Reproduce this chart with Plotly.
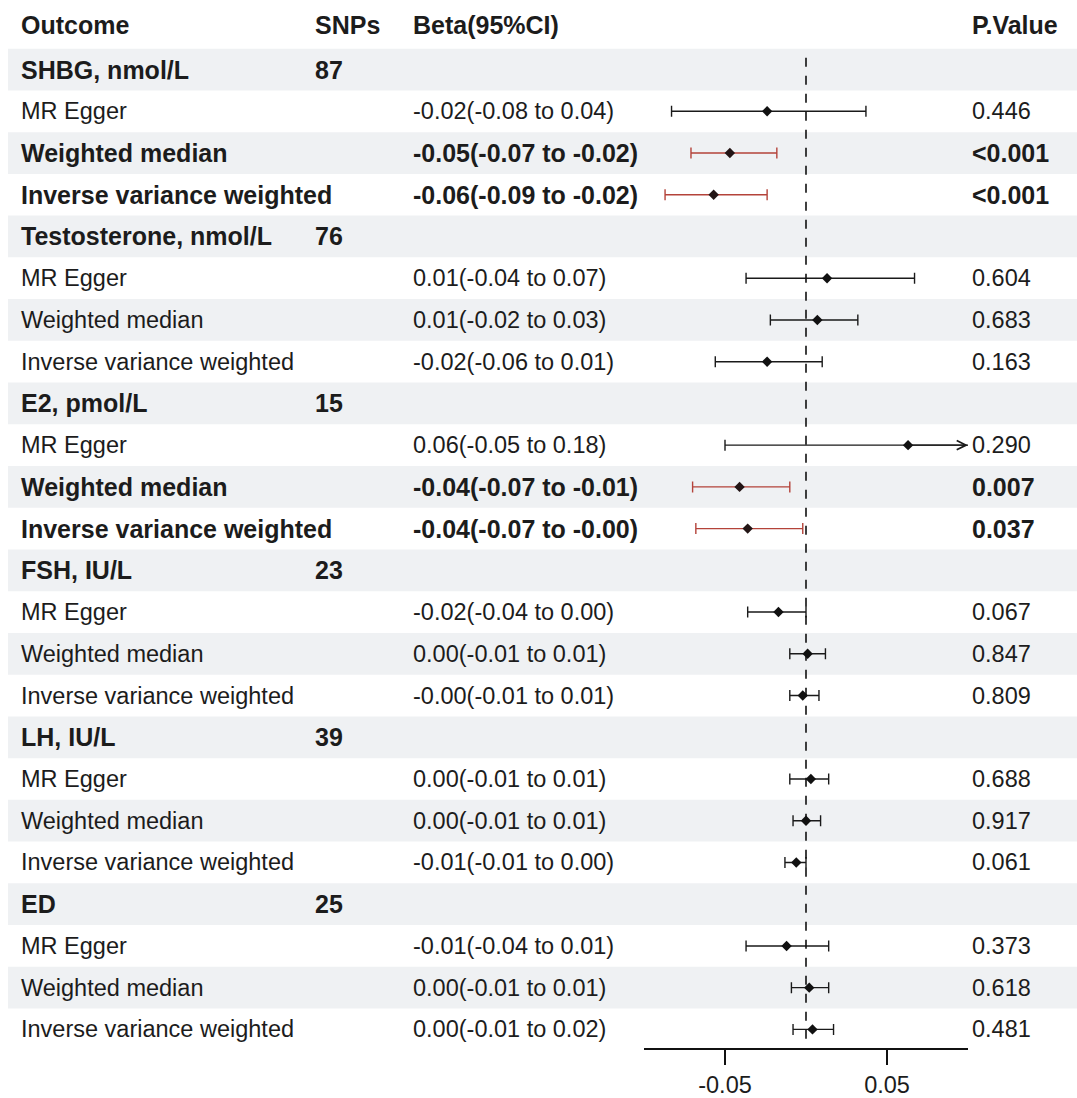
import plotly.graph_objects as go

# ---- data -------------------------------------------------------------
outcomes = ["SHBG, nmol/L", "Testosterone, nmol/L", "E2, pmol/L",
            "FSH, IU/L", "LH, IU/L", "ED"]
snp_counts = [87, 76, 15, 23, 39, 25]
methods = ["MR Egger", "Weighted median", "Inverse variance weighted"]

# beta estimates per outcome (MR Egger, Weighted median, IVW)
beta = [
    [-0.024, -0.047, -0.057],
    [0.013, 0.007, -0.024],
    [0.063, -0.041, -0.036],
    [-0.017, 0.001, -0.002],
    [0.003, 0.000, -0.006],
    [-0.012, 0.002, 0.004],
]
ci_low = [
    [-0.083, -0.071, -0.087],
    [-0.037, -0.022, -0.056],
    [-0.050, -0.070, -0.068],
    [-0.036, -0.010, -0.010],
    [-0.010, -0.008, -0.013],
    [-0.037, -0.009, -0.008],
]
ci_high = [
    [0.037, -0.018, -0.024],
    [0.067, 0.032, 0.010],
    [0.180, -0.010, -0.002],
    [0.000, 0.012, 0.008],
    [0.014, 0.009, 0.000],
    [0.014, 0.014, 0.017],
]
p_values = [
    ["0.446", "<0.001", "<0.001"],
    ["0.604", "0.683", "0.163"],
    ["0.290", "0.007", "0.037"],
    ["0.067", "0.847", "0.809"],
    ["0.688", "0.917", "0.061"],
    ["0.373", "0.618", "0.481"],
]
header_labels = ["Outcome", "SNPs", "Beta(95%CI)", "P.Value"]
x_ticks = [-0.05, 0.05]
x_tick_labels = ["-0.05", "0.05"]
x_limits = [-0.1, 0.1]

# ---- layout constants -------------------------------------------------
W, H = 1077, 1098
FONT = "Liberation Sans, Arial, sans-serif"
TXT = "#1c1c1c"
RED = "#b4433a"
BAND = "#eff1f3"
ROW0, STEP = 70, 42          # vertical position of the first row / row pitch
HEADER_Y = 25
COL_X = [19, 313, 411, 970]  # left edges of the text columns
AXIS_Y = 1055                # vertical position of the x-axis line
PLOT_L, PLOT_R = 644, 968    # horizontal extent of the forest panel
REG = 23.5
BOLD = 25


def is_sig(p):
    return p.startswith("<") or float(p) < 0.05


# ---- build rows -------------------------------------------------------
rows = []
for g, name in enumerate(outcomes):
    rows.append(dict(kind="group", name=name, snps=snp_counts[g]))
    for m, meth in enumerate(methods):
        b, lo, hi = beta[g][m], ci_low[g][m], ci_high[g][m]
        rows.append(dict(kind="method", name=meth, b=b, lo=lo, hi=hi,
                         p=p_values[g][m], sig=is_sig(p_values[g][m])))

fig = go.Figure()
shapes, annotations = [], []


def col_text(col, y, text, bold):
    annotations.append(dict(
        x=COL_X[col] / W, xref="paper", y=y, yref="y",
        text=text, showarrow=False, xanchor="left", yanchor="middle",
        font=dict(family=FONT, size=BOLD if bold else REG, color=TXT,
                  weight="bold" if bold else "normal")))


# header
for c, lab in enumerate(header_labels):
    col_text(c, HEADER_Y, lab, True)

pts = {False: dict(x=[], y=[], ep=[], em=[]), True: dict(x=[], y=[], ep=[], em=[])}
for i, r in enumerate(rows):
    y = ROW0 + STEP * i
    if i % 2 == 0:
        shapes.append(dict(type="rect", xref="paper", yref="y",
                           x0=8 / W, x1=1, y0=y - STEP / 2, y1=y + STEP / 2,
                           fillcolor=BAND, line=dict(width=0), layer="below"))
    if r["kind"] == "group":
        col_text(0, y, r["name"], True)
        col_text(1, y, str(r["snps"]), True)
    else:
        bold = r["sig"]
        col_text(0, y, r["name"], bold)
        col_text(2, y, f"{r['b']:.2f}({r['lo']:.2f} to {r['hi']:.2f})", bold)
        col_text(3, y, r["p"], bold)
        d = pts[r["sig"]]
        d["x"].append(r["b"])
        d["y"].append(y)
        d["ep"].append(r["hi"] - r["b"])
        d["em"].append(r["b"] - r["lo"])
        if r["hi"] > x_limits[1]:
            # interval runs past the panel: finish it with an arrow
            annotations.append(dict(
                x=x_limits[1], y=y, xref="x", yref="y",
                ax=r["b"], ay=y, axref="x", ayref="y", text="",
                showarrow=True, arrowhead=5, arrowsize=1.3, arrowwidth=1.4,
                arrowcolor=RED if r["sig"] else "#1a1a1a"))

for sig, d in pts.items():
    col = RED if sig else "#1a1a1a"
    fig.add_trace(go.Scatter(
        x=d["x"], y=d["y"], mode="markers",
        marker=dict(symbol="diamond", size=8, color="#231515" if sig else "#111111"),
        error_x=dict(type="data", symmetric=False, array=d["ep"], arrayminus=d["em"],
                     color=col, thickness=1.4, width=5.5),
        cliponaxis=True, showlegend=False, hoverinfo="skip"))

# reference line at zero
shapes.append(dict(type="line", xref="x", yref="y", x0=0, x1=0, y0=58, y1=1046,
                   line=dict(color="#111111", width=1.6, dash="dash")))

fig.update_layout(
    width=W, height=H, margin=dict(l=0, r=0, t=0, b=0),
    paper_bgcolor="white", plot_bgcolor="rgba(0,0,0,0)",
    shapes=shapes, annotations=annotations, showlegend=False,
    xaxis=dict(domain=[PLOT_L / W, PLOT_R / W], range=x_limits,
               showgrid=False, zeroline=False, showline=True, linecolor="#111111",
               linewidth=2, ticks="outside", ticklen=15, tickwidth=2,
               tickcolor="#111111", tickvals=x_ticks, ticktext=x_tick_labels,
               tickfont=dict(family=FONT, size=REG, color=TXT)),
    yaxis=dict(domain=[(H - AXIS_Y) / H, 1], range=[AXIS_Y, 0],
               visible=False, showgrid=False, zeroline=False),
)

fig.write_html("out.html")
